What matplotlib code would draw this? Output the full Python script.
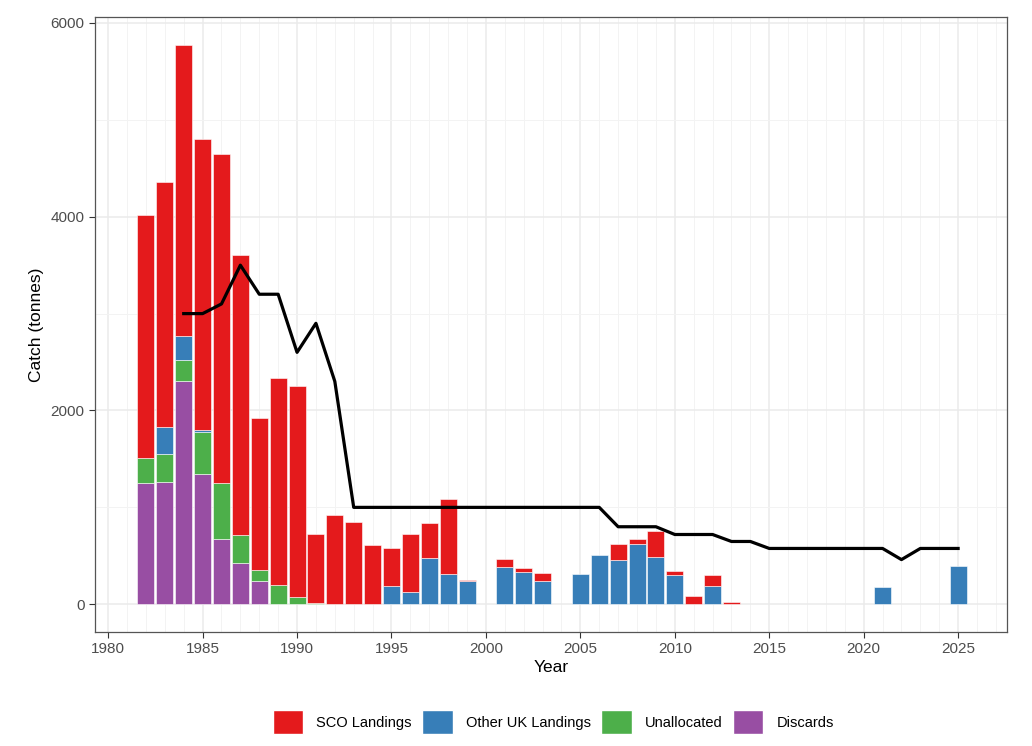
import numpy as np
import matplotlib.pyplot as plt
from matplotlib.patches import Patch
from matplotlib.ticker import MultipleLocator

plt.rcParams['font.family'] = ['Liberation Sans', 'DejaVu Sans']

# Catch by year (tonnes)
years = np.arange(1982, 2026)
discards = [1250, 1260, 2300, 1345, 675, 430, 240, 0, 0, 0, 0, 0, 0, 0,
            0, 0, 0, 0, 0, 0, 0, 0, 0, 0, 0, 0, 0, 0, 0, 0, 0, 0,
            0, 0, 0, 0, 0, 0, 0, 0, 0, 0, 0, 0]
unallocated = [260, 295, 225, 430, 580, 283, 113, 202, 76, 17, 0, 0, 0, 0,
               0, 0, 0, 0, 0, 0, 0, 0, 0, 0, 0, 0, 0, 0, 0, 0, 0, 0,
               0, 0, 0, 0, 0, 0, 0, 0, 0, 0, 0, 0]
other_uk = [0, 275, 248, 25, 0, 0, 0, 0, 0, 0, 0, 0, 0, 190,
            127, 473, 309, 240, 0, 388, 333, 240, 0, 316, 507, 456, 621, 487,
            298, 0, 185, 0, 0, 0, 0, 0, 0, 0, 0, 182, 0, 0, 0, 391]
sco = [2510, 2530, 2995, 3000, 3395, 2897, 1567, 2138, 2177, 710, 926, 850, 607, 393,
       593, 367, 778, 14, 0, 82, 44, 86, 0, 0, 0, 165, 51, 264,
       48, 89, 113, 24, 0, 0, 0, 0, 0, 0, 0, 0, 0, 0, 0, 0]

# TAC line
tac_years = np.arange(1984, 2026)
tac = [3000, 3000, 3100, 3500, 3200, 3200, 2600, 2900, 2300, 1000,
       1000, 1000, 1000, 1000, 1000, 1000, 1000, 1000, 1000, 1000,
       1000, 1000, 1000, 800, 800, 800, 720, 720, 720, 648,
       648, 576, 576, 576, 576, 576, 576, 576, 461, 576, 576, 576]

series = [("Discards", discards, "#984EA3"),
          ("Unallocated", unallocated, "#4DAF4A"),
          ("Other UK Landings", other_uk, "#377EB8"),
          ("SCO Landings", sco, "#E41A1C")]

fig = plt.figure(figsize=(10.32, 7.46), dpi=100)
ax = fig.add_axes([0.092, 0.153, 0.884, 0.824])

bottom = np.zeros(len(years))
for name, vals, col in series:
    vals = np.array(vals, dtype=float)
    m = vals > 0
    ax.bar(years[m], vals[m], bottom=bottom[m], width=0.9, color=col,
           edgecolor="white", linewidth=0.4, zorder=2)
    bottom += vals

ax.plot(tac_years, tac, color="black", linewidth=2.3, zorder=3)

ax.set_xlim(1979.3, 2027.6)
ax.set_ylim(-285, 6060)
ax.xaxis.set_major_locator(MultipleLocator(5))
ax.xaxis.set_minor_locator(MultipleLocator(1))
ax.yaxis.set_major_locator(MultipleLocator(2000))
ax.yaxis.set_minor_locator(MultipleLocator(1000))
ax.grid(which="major", color="#EBEBEB", linewidth=1.1, zorder=0)
ax.grid(which="minor", color="#F3F3F3", linewidth=0.7, zorder=0)
ax.set_axisbelow(True)
ax.tick_params(which="minor", length=0)
ax.tick_params(which="major", length=4, color="#333333", labelsize=11,
               labelcolor="#4D4D4D", width=0.8)
for s in ax.spines.values():
    s.set_color("#555555")
    s.set_linewidth(0.9)

ax.set_xlabel("Year", fontsize=12.5, labelpad=3)
ax.set_ylabel("Catch (tonnes)", fontsize=12.5, labelpad=5)

handles = [Patch(facecolor=c, edgecolor="white", label=n)
           for n, _, c in [series[3], series[2], series[1], series[0]]]
fig.legend(handles=handles, loc="center", bbox_to_anchor=(0.536, 0.032), ncol=4,
           frameon=False, fontsize=10.5, handlelength=2.1, handleheight=2.2,
           columnspacing=0.7, handletextpad=0.9)

fig.savefig("out.png", dpi=100)
